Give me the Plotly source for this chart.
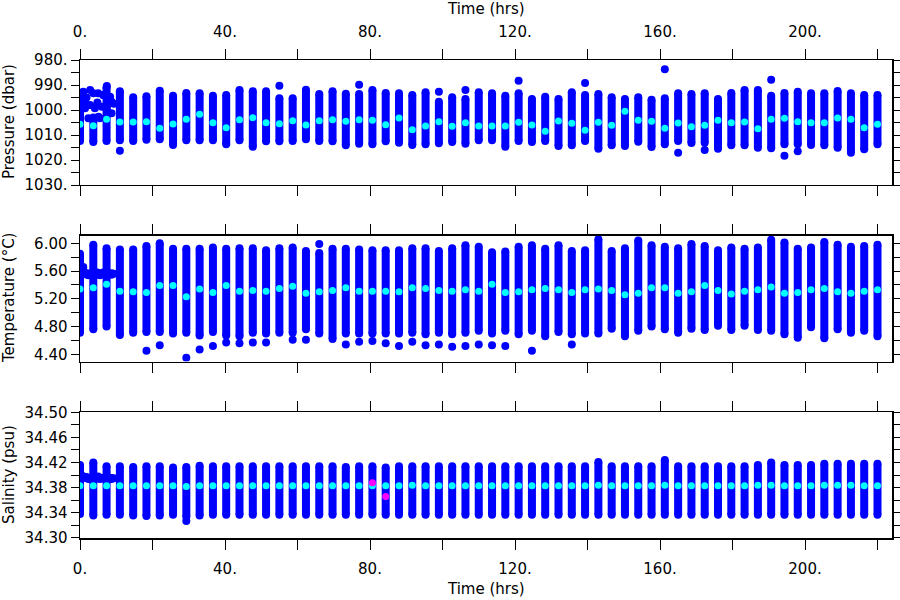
import plotly.graph_objects as go

# ---------------- data ----------------
time_hrs = [0.0, 3.67, 7.33, 11.0, 14.67, 18.33, 22.0, 25.67, 29.33, 33.0,
            36.67, 40.33, 44.0, 47.67, 51.33, 55.0, 58.67, 62.33, 66.0, 69.67,
            73.33, 77.0, 80.67, 84.33, 88.0, 91.67, 95.33, 99.0, 102.67, 106.33,
            110.0, 113.67, 117.33, 121.0, 124.67, 128.33, 132.0, 135.67, 139.33, 143.0,
            146.67, 150.33, 154.0, 157.67, 161.33, 165.0, 168.67, 172.33, 176.0, 179.67,
            183.33, 187.0, 190.67, 194.33, 198.0, 201.67, 205.33, 209.0, 212.67, 216.33,
            220.0]

# Pressure (dbar): column top, column bottom, column mean
pres_top = [994.9, 1003.0, 990.9, 992.5, 994.9, 994.5, 992.3, 994.3, 993.2, 993.3,
            994.3, 994.0, 992.0, 992.5, 992.5, 995.3, 995.3, 991.9, 993.6, 992.5,
            993.5, 993.6, 992.0, 993.2, 993.3, 994.0, 992.9, 996.7, 994.9, 995.6,
            992.9, 993.3, 994.3, 993.3, 995.6, 994.7, 995.6, 992.9, 994.0, 993.6,
            994.9, 995.6, 994.9, 995.9, 995.3, 993.3, 993.6, 993.3, 995.6, 993.2,
            992.0, 992.0, 994.3, 993.2, 992.7, 993.3, 993.3, 992.4, 993.3, 994.0,
            994.0]
pres_bot = [1012.4, 1012.8, 1012.4, 1012.1, 1012.4, 1011.9, 1011.7, 1014.0, 1012.1, 1012.1,
            1012.1, 1013.7, 1012.1, 1014.7, 1012.5, 1012.5, 1012.4, 1011.7, 1012.4, 1012.5,
            1014.1, 1013.5, 1013.7, 1012.5, 1013.1, 1014.0, 1013.7, 1013.3, 1012.8, 1013.5,
            1012.1, 1012.1, 1014.7, 1012.4, 1012.8, 1012.4, 1014.4, 1014.1, 1012.4, 1015.5,
            1014.1, 1014.4, 1012.7, 1014.8, 1013.7, 1012.4, 1013.2, 1013.1, 1015.5, 1014.1,
            1014.1, 1015.1, 1015.3, 1013.7, 1013.7, 1014.0, 1014.1, 1015.1, 1017.1, 1015.7,
            1013.7]
pres_mean = [1005.7, 1006.3, 1003.7, 1004.8, 1004.8, 1004.7, 1007.3, 1005.6, 1003.7, 1001.7,
             1005.1, 1007.1, 1003.9, 1003.1, 1005.1, 1005.5, 1004.3, 1006.0, 1004.3, 1003.9,
             1004.5, 1003.9, 1004.1, 1005.9, 1003.2, 1007.9, 1006.4, 1004.7, 1006.5, 1005.1,
             1006.4, 1006.4, 1006.4, 1004.9, 1006.0, 1008.5, 1004.4, 1005.3, 1008.1, 1004.9,
             1006.1, 1000.5, 1004.1, 1004.5, 1007.3, 1005.2, 1006.7, 1006.1, 1004.1, 1005.1,
             1004.8, 1007.5, 1003.7, 1003.3, 1004.7, 1005.1, 1005.1, 1003.2, 1003.7, 1007.1,
             1005.7]
pres_out_t = [11.0, 55.0, 77.0, 99.0, 106.33, 121.0, 139.33, 161.33, 165.0, 172.33,
              190.67, 194.33, 198.0]
pres_out_v = [1016.3, 990.3, 989.9, 992.7, 992.0, 988.3, 989.2, 983.7, 1017.1, 1016.0,
              987.9, 1018.3, 1016.5]

# Temperature (deg C)
temp_top = [5.85, 5.98, 5.93, 5.91, 5.91, 5.96, 6.00, 5.92, 5.92, 5.92,
            5.94, 5.92, 5.93, 5.93, 5.90, 5.93, 5.94, 5.89, 5.86, 5.92,
            5.92, 5.91, 5.90, 5.90, 5.90, 5.93, 5.93, 5.89, 5.93, 5.97,
            5.95, 5.87, 5.88, 5.95, 5.97, 5.92, 5.97, 5.89, 5.90, 6.06,
            5.89, 5.93, 6.04, 5.97, 5.95, 5.93, 5.99, 5.96, 5.90, 5.94,
            5.92, 5.94, 6.05, 6.01, 5.92, 5.94, 6.02, 5.98, 5.95, 5.96,
            5.98]
temp_bot = [4.71, 4.76, 4.80, 4.68, 4.71, 4.72, 4.72, 4.70, 4.71, 4.67,
            4.72, 4.67, 4.66, 4.71, 4.70, 4.71, 4.71, 4.76, 4.70, 4.62,
            4.70, 4.70, 4.70, 4.70, 4.70, 4.71, 4.69, 4.71, 4.69, 4.71,
            4.74, 4.70, 4.74, 4.69, 4.74, 4.66, 4.72, 4.69, 4.70, 4.70,
            4.77, 4.66, 4.74, 4.80, 4.76, 4.71, 4.77, 4.75, 4.81, 4.75,
            4.81, 4.75, 4.74, 4.69, 4.64, 4.79, 4.63, 4.76, 4.71, 4.74,
            4.66]
temp_mean = [5.34, 5.36, 5.41, 5.31, 5.30, 5.29, 5.39, 5.39, 5.23, 5.34,
             5.29, 5.39, 5.31, 5.32, 5.31, 5.35, 5.38, 5.28, 5.30, 5.32,
             5.36, 5.31, 5.31, 5.31, 5.30, 5.36, 5.35, 5.32, 5.31, 5.33,
             5.31, 5.41, 5.29, 5.30, 5.33, 5.35, 5.33, 5.29, 5.33, 5.34,
             5.32, 5.26, 5.28, 5.36, 5.36, 5.28, 5.30, 5.39, 5.32, 5.27,
             5.31, 5.33, 5.37, 5.28, 5.29, 5.33, 5.35, 5.30, 5.28, 5.31,
             5.33]
temp_out_t = [18.33, 22.0, 29.33, 33.0, 36.67, 40.33, 44.0, 47.67, 51.33, 58.67,
              62.33, 66.0, 73.33, 77.0, 80.67, 84.33, 88.0, 91.67, 95.33, 99.0,
              102.67, 106.33, 110.0, 113.67, 117.33, 124.67, 135.67]
temp_out_v = [4.45, 4.53, 4.35, 4.47, 4.52, 4.57, 4.56, 4.57, 4.57, 4.61,
              4.61, 5.99, 4.54, 4.58, 4.59, 4.56, 4.52, 4.58, 4.53, 4.54,
              4.51, 4.52, 4.54, 4.53, 4.52, 4.45, 4.54]

# Salinity (psu)
sal_top = [34.416, 34.420, 34.414, 34.414, 34.413, 34.414, 34.414, 34.412, 34.413, 34.415,
           34.414, 34.414, 34.414, 34.414, 34.414, 34.414, 34.414, 34.414, 34.414, 34.414,
           34.413, 34.414, 34.414, 34.412, 34.414, 34.414, 34.414, 34.414, 34.414, 34.414,
           34.414, 34.414, 34.414, 34.414, 34.414, 34.414, 34.414, 34.414, 34.414, 34.421,
           34.414, 34.414, 34.414, 34.414, 34.424, 34.414, 34.414, 34.414, 34.414, 34.414,
           34.414, 34.416, 34.420, 34.416, 34.416, 34.416, 34.418, 34.418, 34.418, 34.418,
           34.418]
sal_bot = [34.338, 34.336, 34.337, 34.337, 34.336, 34.335, 34.336, 34.337, 34.334, 34.336,
           34.337, 34.337, 34.337, 34.337, 34.337, 34.337, 34.337, 34.337, 34.337, 34.337,
           34.337, 34.337, 34.337, 34.337, 34.337, 34.337, 34.337, 34.337, 34.337, 34.337,
           34.337, 34.337, 34.337, 34.337, 34.337, 34.337, 34.337, 34.337, 34.337, 34.337,
           34.337, 34.337, 34.337, 34.337, 34.337, 34.337, 34.337, 34.337, 34.337, 34.337,
           34.337, 34.337, 34.337, 34.337, 34.337, 34.337, 34.337, 34.337, 34.337, 34.337,
           34.337]
sal_mean = [34.383, 34.383, 34.383, 34.383, 34.383, 34.383, 34.383, 34.383, 34.382, 34.383,
            34.383, 34.383, 34.383, 34.383, 34.383, 34.383, 34.383, 34.383, 34.383, 34.383,
            34.383, 34.383, 34.383, 34.383, 34.383, 34.384, 34.383, 34.383, 34.383, 34.383,
            34.383, 34.383, 34.383, 34.383, 34.383, 34.383, 34.383, 34.383, 34.383, 34.384,
            34.383, 34.383, 34.383, 34.383, 34.384, 34.383, 34.383, 34.383, 34.383, 34.383,
            34.383, 34.384, 34.384, 34.383, 34.383, 34.383, 34.384, 34.384, 34.384, 34.383,
            34.383]
sal_out_t = [29.33]
sal_out_v = [34.327]
flag_t = [80.67, 84.33]
flag_sal = [34.388, 34.366]

# Early, irregular samples (first ~10 hours)
early_t = [0.4, 0.9, 1.4, 1.8, 2.8, 3.7, 3.7, 4.8, 5.0, 5.5, 6.0, 6.4, 7.4, 7.4, 8.3, 8.7, 8.7, 9.3,
           0.0, 1.4, 2.8, 2.3, 5.1, 4.1, 6.4, 7.8, 8.7, 7.4, 0.9]
early_pres = [997.3, 994.0, 999.3, 995.0, 992.0, 993.3, 1003.3, 997.0, 993.3, 1003.3,
              998.7, 994.0, 990.4, 1000.0, 994.7, 997.1, 1001.3, 997.5,
              994.7, 996.7, 998.0, 1003.3, 1002.7, 999.3, 994.0, 995.3, 996.7, 998.7, 992.7]
early_temp = [5.62, 5.66, 5.58, 5.55, 5.57, 5.56, 5.53, 5.58, 5.55, 5.54,
              5.57, 5.56, 5.55, 5.58, 5.56, 5.55, 5.57, 5.56,
              5.60, 5.57, 5.55, 5.54, 5.56, 5.57, 5.58, 5.56, 5.55, 5.57, 5.59]
early_sal = [34.400, 34.398, 34.396, 34.397, 34.395, 34.394, 34.396, 34.395, 34.398, 34.394,
             34.395, 34.396, 34.394, 34.395, 34.396, 34.395, 34.394, 34.395,
             34.397, 34.396, 34.395, 34.394, 34.395, 34.396, 34.395, 34.394, 34.395, 34.396, 34.397]

x_ticks = [0, 20, 40, 60, 80, 100, 120, 140, 160, 180, 200, 220]
x_labels = ["0.", "", "40.", "", "80.", "", "120.", "", "160.", "", "200.", ""]
p_ticks = [980, 985, 990, 995, 1000, 1005, 1010, 1015, 1020, 1025, 1030]
p_labels = ["980.", "", "990.", "", "1000.", "", "1010.", "", "1020.", "", "1030."]
t_ticks = [4.4, 4.6, 4.8, 5.0, 5.2, 5.4, 5.6, 5.8, 6.0]
t_labels = ["4.40", "", "4.80", "", "5.20", "", "5.60", "", "6.00"]
s_ticks = [34.30, 34.32, 34.34, 34.36, 34.38, 34.40, 34.42, 34.44, 34.46, 34.48, 34.50]
s_labels = ["34.30", "", "34.34", "", "34.38", "", "34.42", "", "34.46", "", "34.50"]

# ---------------- figure ----------------
BLUE = "#0000ff"
CYAN = "#00ffff"
MAGENTA = "#ff00ff"
FONT = "DejaVu Sans"

fig = go.Figure()


def add_panel(n, top, bot, mean, out_t, out_v, early_v):
    xa = "x" if n == 1 else f"x{n}"
    ya = "y" if n == 1 else f"y{n}"
    xs, ys = [], []
    for t, a, b in zip(time_hrs, top, bot):
        xs += [t, t, None]
        ys += [a, b, None]
    fig.add_trace(go.Scatter(x=xs, y=ys, mode="lines+markers",
                             line=dict(color=BLUE, width=8),
                             marker=dict(color=BLUE, size=8),
                             xaxis=xa, yaxis=ya, showlegend=False, hoverinfo="skip"))
    fig.add_trace(go.Scatter(x=early_t, y=early_v, mode="markers",
                             marker=dict(color=BLUE, size=8),
                             xaxis=xa, yaxis=ya, showlegend=False))
    fig.add_trace(go.Scatter(x=out_t, y=out_v, mode="markers",
                             marker=dict(color=BLUE, size=8),
                             xaxis=xa, yaxis=ya, showlegend=False))
    fig.add_trace(go.Scatter(x=time_hrs, y=mean, mode="markers",
                             marker=dict(color=CYAN, size=7),
                             xaxis=xa, yaxis=ya, showlegend=False))


add_panel(1, pres_top, pres_bot, pres_mean, pres_out_t, pres_out_v, early_pres)
add_panel(2, temp_top, temp_bot, temp_mean, temp_out_t, temp_out_v, early_temp)
add_panel(3, sal_top, sal_bot, sal_mean, sal_out_t, sal_out_v, early_sal)
fig.add_trace(go.Scatter(x=flag_t, y=flag_sal, mode="markers",
                         marker=dict(color=MAGENTA, size=7),
                         xaxis="x3", yaxis="y3", showlegend=False))

tickfont = dict(family=FONT, size=15, color="black")
common_x = dict(range=[0, 224], tickvals=x_ticks, ticktext=x_labels, ticks="outside",
                ticklen=10, tickwidth=1, tickcolor="black", showline=True, linecolor="black",
                linewidth=1.5, mirror="ticks", showgrid=False, zeroline=False,
                tickfont=tickfont, ticklabelstandoff=6, automargin=False)
common_y = dict(ticks="outside", ticklen=8, tickwidth=1, tickcolor="black", showline=True,
                linecolor="black", linewidth=1.5, mirror="ticks", showgrid=False,
                zeroline=False, tickfont=tickfont, automargin=False)

fig.update_layout(
    width=900, height=600,
    margin=dict(l=80, r=8, t=60, b=62, autoexpand=False),
    paper_bgcolor="white", plot_bgcolor="white",
    font=dict(family=FONT, size=15, color="black"),
    hovermode=False,
    xaxis=dict(common_x, anchor="y", side="top", domain=[0, 1]),
    xaxis2=dict(common_x, anchor="y2", showticklabels=False, domain=[0, 1]),
    xaxis3=dict(common_x, anchor="y3", side="bottom", domain=[0, 1]),
    yaxis=dict(common_y, anchor="x", domain=[0.7385, 1.0], range=[1030, 980],
               tickvals=p_ticks, ticktext=p_labels),
    yaxis2=dict(common_y, anchor="x2", domain=[0.3692, 0.6328], range=[4.296, 6.112],
                tickvals=t_ticks, ticktext=t_labels),
    yaxis3=dict(common_y, anchor="x3", domain=[0.0, 0.263], range=[34.30, 34.50],
                tickvals=s_ticks, ticktext=s_labels),
)

ann_font = dict(family=FONT, size=15, color="black")
fig.add_annotation(text="Time (hrs)", xref="paper", yref="paper", x=0.5, y=(538 - 9) / 478,
                   showarrow=False, font=ann_font, xanchor="center", yanchor="middle")
fig.add_annotation(text="Time (hrs)", xref="paper", yref="paper", x=0.5, y=(538 - 589) / 478,
                   showarrow=False, font=ann_font, xanchor="center", yanchor="middle")
for label, ypix in [("Pressure (dbar)", 122), ("Temperature (°C)", 298), ("Salinity (psu)", 475)]:
    fig.add_annotation(text=label, xref="paper", yref="paper", x=(9 - 80) / 812,
                       y=(538 - ypix) / 478, showarrow=False, font=ann_font, textangle=-90,
                       xanchor="center", yanchor="middle")

fig.write_html("out.html", config={"displayModeBar": False, "staticPlot": True},
               post_script="document.body.style.margin='0';document.body.style.overflow='hidden';")
